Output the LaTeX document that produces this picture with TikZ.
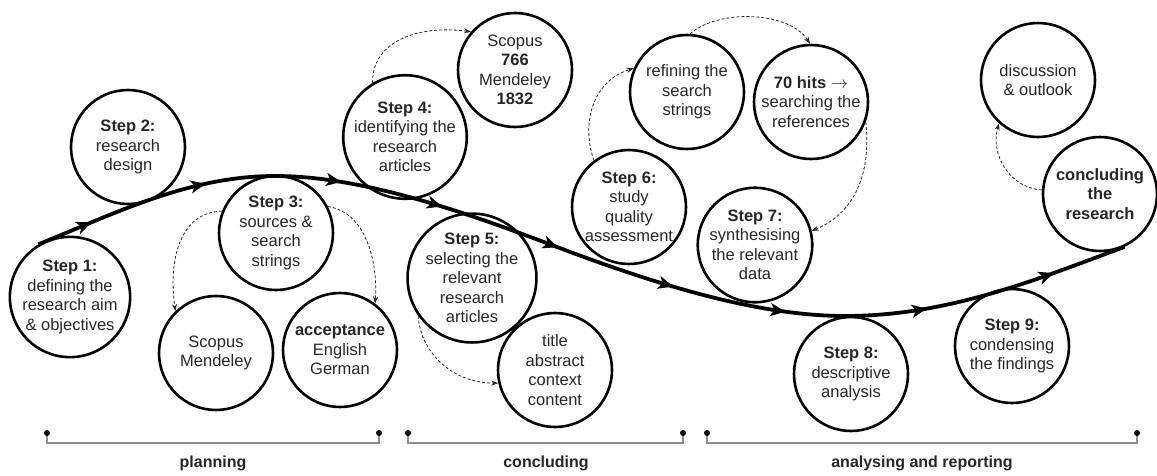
\documentclass[tikz,border=0pt]{standalone}
\usepackage{fontspec}
\setmainfont{Liberation Sans}
\usetikzlibrary{arrows.meta,decorations.markings}
\definecolor{txt}{HTML}{262626}
\definecolor{brk}{HTML}{8C8C8C}
\begin{document}
\begin{tikzpicture}[x=1pt,y=-1pt,
  circ/.style={circle,draw=black,line width=2.6pt,minimum size=114pt,inner sep=0pt,align=center,
    font=\fontsize{16.5}{19.5}\selectfont,text=txt},
  dasharrow/.style={densely dashed,line width=0.8pt,draw=black!85,-{Stealth[length=7pt,width=5pt]}},
  mainline/.style={line width=3.8pt,draw=black,
    postaction={decorate,decoration={markings,
      mark=at position 0.051 with {\arrow{Stealth[length=15pt,width=13pt,inset=4pt]}},
      mark=at position 0.158 with {\arrow{Stealth[length=15pt,width=13pt,inset=4pt]}},
      mark=at position 0.279 with {\arrow{Stealth[length=15pt,width=13pt,inset=4pt]}},
      mark=at position 0.371 with {\arrow{Stealth[length=15pt,width=13pt,inset=4pt]}},
      mark=at position 0.480 with {\arrow{Stealth[length=15pt,width=13pt,inset=4pt]}},
      mark=at position 0.588 with {\arrow{Stealth[length=15pt,width=13pt,inset=4pt]}},
      mark=at position 0.690 with {\arrow{Stealth[length=15pt,width=13pt,inset=4pt]}},
      mark=at position 0.816 with {\arrow{Stealth[length=15pt,width=13pt,inset=4pt]}},
      mark=at position 0.933 with {\arrow{Stealth[length=15pt,width=13pt,inset=4pt]}}}}},
  bracket/.style={draw=brk,line width=1.5pt},
  dotmark/.style={circle,fill=black,inner sep=0pt,minimum size=6pt},
  phase/.style={font=\fontsize{16}{19}\selectfont\bfseries,text=txt}]
\useasboundingbox (0,0) rectangle (1157,475);

% circles
\node[circ] (s1) at (70,297) {\textbf{Step 1:}\\defining the\\research aim\\\& objectives};
\node[circ] (s2) at (128,147) {\textbf{Step 2:}\\research\\design};
\node[circ] (s3) at (276,233) {\textbf{Step 3:}\\sources \&\\search\\strings};
\node[circ] (sm) at (216,353) {Scopus\\Mendeley};
\node[circ] (acc) at (340,350) {\textbf{acceptance}\\English\\German};
\node[circ] (s4) at (405,137) {\textbf{Step 4:}\\identifying the\\research\\articles};
\node[circ] (sc) at (515,70) {Scopus\\\textbf{766}\\Mendeley\\\textbf{1832}};
\node[circ] (s5) at (472,278) {\textbf{Step 5:}\\selecting the\\relevant\\research\\articles};
\node[circ] (ta) at (555,370) {title\\abstract\\context\\content};
\node[circ] (s6) at (629,207) {\textbf{Step 6:}\\study\\quality\\assessment};
\node[circ] (rf) at (687,92) {refining the\\search\\strings};
\node[circ] (hits) at (811,102) {\textbf{70 hits $\rightarrow$}\\searching the\\references};
\node[circ] (s7) at (755,245) {\textbf{Step 7:}\\synthesising\\the relevant\\data};
\node[circ] (s8) at (851,374) {\textbf{Step 8:}\\descriptive\\analysis};
\node[circ] (s9) at (1012,346) {\textbf{Step 9:}\\condensing\\the findings};
\node[circ] (disc) at (1038,80) {discussion\\\& outlook};
\node[circ] (cr) at (1100,194) {\textbf{concluding}\\\textbf{the}\\\textbf{research}};

% main curve
\draw[mainline] (s1.121) .. controls (118,212) and (190,176) .. (275,176)
  .. controls (360,176) and (460,210) .. (557,247)
  .. controls (660,286) and (760,316) .. (845,316)
  .. controls (950,316) and (1040,278) .. (cr.-65);

% dashed arrows
\draw[dasharrow] (s3.158) .. controls (180,212) and (168,260) .. (sm.134);
\draw[dasharrow] (s3.27) .. controls (365,212) and (378,260) .. (acc.53);
\draw[dasharrow] (s4.121) .. controls (372,40) and (420,25) .. (sc.139);
\draw[dasharrow] (s5.215) .. controls (420,350) and (450,383) .. (ta.193);
\draw[dasharrow] (s6.127) .. controls (580,120) and (595,80) .. (rf.156);
\draw[dasharrow] (rf.87) .. controls (720,8) and (790,12) .. (hits.91);
\draw[dasharrow] (hits.-20) .. controls (872,180) and (850,215) .. (s7.14);
\draw[dasharrow] (cr.176) .. controls (1010,188) and (990,155) .. (disc.228);

% brackets
\coordinate (b1a) at (47,433); \coordinate (b1b) at (379,433);
\coordinate (b2a) at (408,433); \coordinate (b2b) at (683,433);
\coordinate (b3a) at (707,433); \coordinate (b3b) at (1137,433);
\draw[bracket] (b1a) -- ++(0,10) -| (b1b);
\draw[bracket] (b2a) -- ++(0,10) -| (b2b);
\draw[bracket] (b3a) -- ++(0,10) -| (b3b);
\foreach \c in {b1a,b1b,b2a,b2b,b3a,b3b} \node[dotmark] at (\c) {};

\node[phase] (p1) at (213,463) {planning};
\node[phase] (p2) at (546,463) {concluding};
\node[phase] (p3) at (922,463) {analysing and reporting};
\end{tikzpicture}
\end{document}
